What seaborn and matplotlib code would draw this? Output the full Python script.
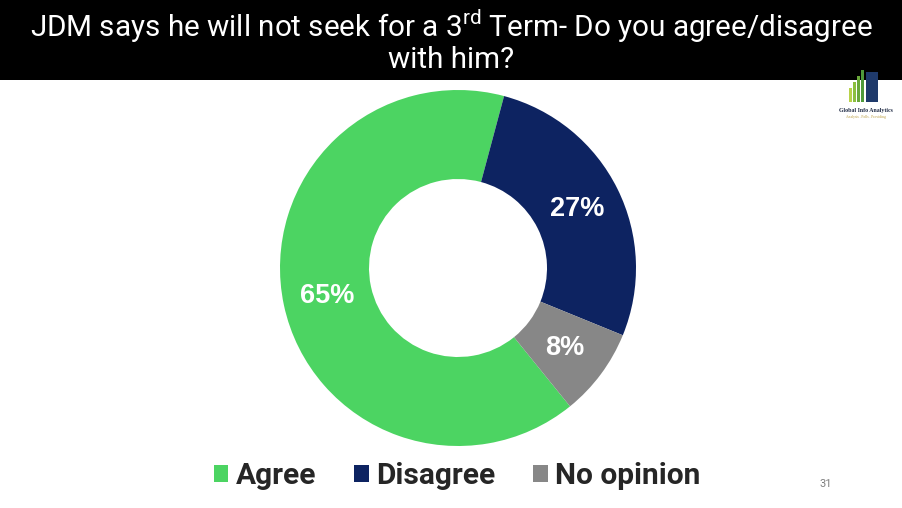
import matplotlib
matplotlib.use("Agg")
import matplotlib.pyplot as plt
import seaborn as sns
import numpy as np
from matplotlib.patches import Rectangle, Patch

sns.set_theme(style="white")
plt.rcParams['font.family'] = ['Roboto', 'DejaVu Sans']
plt.rcParams['mathtext.fontset'] = 'custom'
plt.rcParams['mathtext.rm'] = 'Roboto'

categories = ["Agree", "Disagree", "No opinion"]
values = [65, 27, 8]
labels = ["65%", "27%", "8%"]
colors = ["#4CD462", "#0D2361", "#878787"]
title_line1 = r"JDM says he will not seek for a 3$^{\mathrm{rd}}$ Term- Do you agree/disagree"
title_line2 = "with him?"

W, H = 903, 508
fig = plt.figure(figsize=(W / 100, H / 100), dpi=100)
fig.patch.set_facecolor("white")

# title banner
fig.add_artist(Rectangle((0, 1 - 80 / H), 1, 80 / H, transform=fig.transFigure,
                         facecolor="black", edgecolor="none", zorder=0))
fig.text(0.5, 1 - 26 / H, title_line1, color="white", fontsize=21.3,
         ha="center", va="center")
fig.text(0.5, 1 - 60 / H, title_line2, color="white", fontsize=21.3,
         ha="center", va="center")

# donut
cx, cy, R = 458, 268, 178
ax = fig.add_axes([(cx - R) / W, (H - cy - R) / H, 2 * R / W, 2 * R / H])
wedges, texts = ax.pie(values, colors=colors, startangle=-51, counterclock=False,
                       radius=1, wedgeprops=dict(width=0.5, edgecolor="none"))
for w, lab in zip(wedges, labels):
    ang = np.deg2rad((w.theta1 + w.theta2) / 2)
    ax.text(0.75 * np.cos(ang), 0.75 * np.sin(ang), lab, color="white",
            fontsize=19.5, fontweight="bold", ha="center", va="center",
            family=["Liberation Sans", "DejaVu Sans"])
ax.set_xlim(-1, 1)
ax.set_ylim(-1, 1)
ax.axis("off")

# legend
handles = [Patch(facecolor=c, edgecolor="none") for c in colors]
leg = fig.legend(handles, categories, loc="center", bbox_to_anchor=(457 / W, 1 - 476 / H),
                 ncol=3, frameon=False, handlelength=0.5, handleheight=0.5,
                 handletextpad=0.25, columnspacing=1.25,
                 prop=dict(family=["Roboto", "DejaVu Sans"], weight="bold", size=21.5))

# page number
fig.text(826 / W, 1 - 484 / H, "31", color="#7f7f7f", fontsize=8, ha="center", va="center")

# logo (decoration)
bar_x = [849, 853, 857, 861]
bar_h = [14, 20, 26, 32]
bar_c = ["#b8d24a", "#8cbf3f", "#6aa83a", "#4f9a3a"]
for bx, bh, bc in zip(bar_x, bar_h, bar_c):
    fig.add_artist(Rectangle((bx / W, 1 - 102 / H), 3 / W, bh / H, transform=fig.transFigure,
                             facecolor=bc, edgecolor="none"))
fig.add_artist(Rectangle((866 / W, 1 - 102 / H), 12 / W, 30 / H, transform=fig.transFigure,
                         facecolor="#1f3a6b", edgecolor="none"))
fig.text(866 / W, 1 - 110 / H, "Global Info Analytics", fontsize=4.2, fontweight="bold",
         color="#1f2a44", ha="center", va="center", family=["Liberation Serif", "DejaVu Serif"])
fig.text(866 / W, 1 - 117 / H, "Analysis . Polls . Providing", fontsize=2.6,
         color="#b89a3a", ha="center", va="center", family=["Liberation Serif", "DejaVu Serif"])

fig.savefig("out.png", dpi=100, facecolor="white")
